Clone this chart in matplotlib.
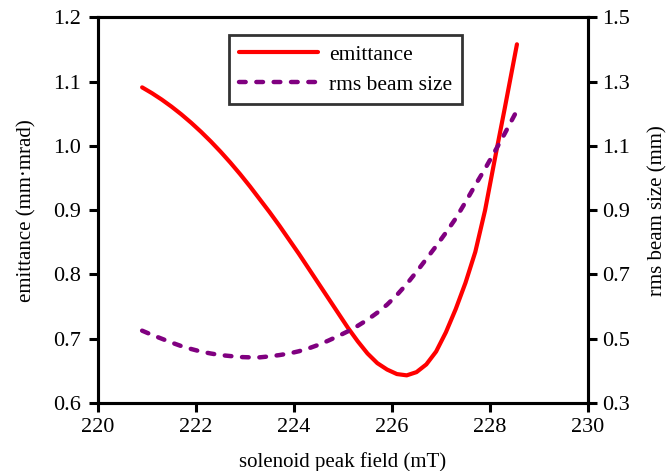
import matplotlib
matplotlib.use("Agg")
import matplotlib.pyplot as plt

plt.rcParams['font.family'] = ['Liberation Serif', 'DejaVu Serif']

field = [220.9, 221.1, 221.3, 221.5, 221.7, 221.9, 222.1, 222.3, 222.5, 222.7,
         222.9, 223.1, 223.3, 223.5, 223.7, 223.9, 224.1, 224.3, 224.5, 224.7,
         224.9, 225.1, 225.3, 225.5, 225.7, 225.9, 226.1, 226.3, 226.5, 226.7,
         226.9, 227.1, 227.3, 227.5, 227.7, 227.9, 228.1, 228.3, 228.55]
emittance = [1.091, 1.082, 1.072, 1.061, 1.049, 1.036, 1.022, 1.007, 0.991, 0.974,
             0.956, 0.937, 0.917, 0.897, 0.876, 0.854, 0.832, 0.809, 0.786, 0.763,
             0.740, 0.717, 0.696, 0.677, 0.662, 0.652, 0.645, 0.643, 0.648, 0.660,
             0.680, 0.710, 0.746, 0.787, 0.835, 0.900, 0.980, 1.058, 1.158]
beam_size = [0.525, 0.512, 0.500, 0.488, 0.477, 0.468, 0.460, 0.454, 0.449, 0.446,
             0.443, 0.442, 0.442, 0.445, 0.449, 0.454, 0.461, 0.470, 0.481, 0.494,
             0.508, 0.523, 0.540, 0.559, 0.581, 0.606, 0.636, 0.670, 0.708, 0.748,
             0.788, 0.830, 0.874, 0.925, 0.978, 1.029, 1.083, 1.138, 1.210]

xticks = [220, 222, 224, 226, 228, 230]
yticks_left = [0.6, 0.7, 0.8, 0.9, 1.0, 1.1, 1.2]
yticks_right = [0.3, 0.5, 0.7, 0.9, 1.1, 1.3, 1.5]

fig = plt.figure(figsize=(6.7, 4.71), dpi=100)
ax = fig.add_axes([0.1463, 0.1444, 0.7313, 0.8189])
ax2 = ax.twinx()

l1, = ax.plot(field, emittance, color='#ff0000', lw=3, label='emittance',
              solid_capstyle='round', solid_joinstyle='round')
l2, = ax2.plot(field, beam_size, color='#800080', lw=3.2, ls=(0, (1.5, 2.4)),
               dash_capstyle='round', label='rms beam size')

ax.set_xlim(220, 230)
ax.set_ylim(0.6, 1.2)
ax2.set_ylim(0.3, 1.5)
ax.set_xticks(xticks)
ax.set_yticks(yticks_left)
ax.set_yticklabels([f"{v:.1f}" for v in yticks_left])
ax2.set_yticks(yticks_right)
ax2.set_yticklabels([f"{v:.1f}" for v in yticks_right])

fs = 16
for a in (ax, ax2):
    for s in a.spines.values():
        s.set_linewidth(2.2)
    a.tick_params(direction='out', length=6.5, width=2.2, labelsize=fs)
ax.tick_params(axis='y', right=False, pad=6)
ax.tick_params(axis='x', top=False, pad=4)
ax2.tick_params(axis='y', pad=4)

ax.set_xlabel('solenoid peak field (mT)', fontsize=15, labelpad=11)
ax.set_ylabel('emittance (mm·mrad)', fontsize=15, labelpad=12)
ax2.set_ylabel('rms beam size (mm)', fontsize=15, labelpad=13)

leg = ax.legend(handles=[l1, l2], loc='upper center', bbox_to_anchor=(0.505, 0.954),
                borderaxespad=0, fontsize=15.5, frameon=True, fancybox=False,
                edgecolor='black', handlelength=3.7, borderpad=0.45,
                labelspacing=0.45, handletextpad=0.5)
leg.get_frame().set_linewidth(2.0)

fig.savefig('out.png', dpi=100)
